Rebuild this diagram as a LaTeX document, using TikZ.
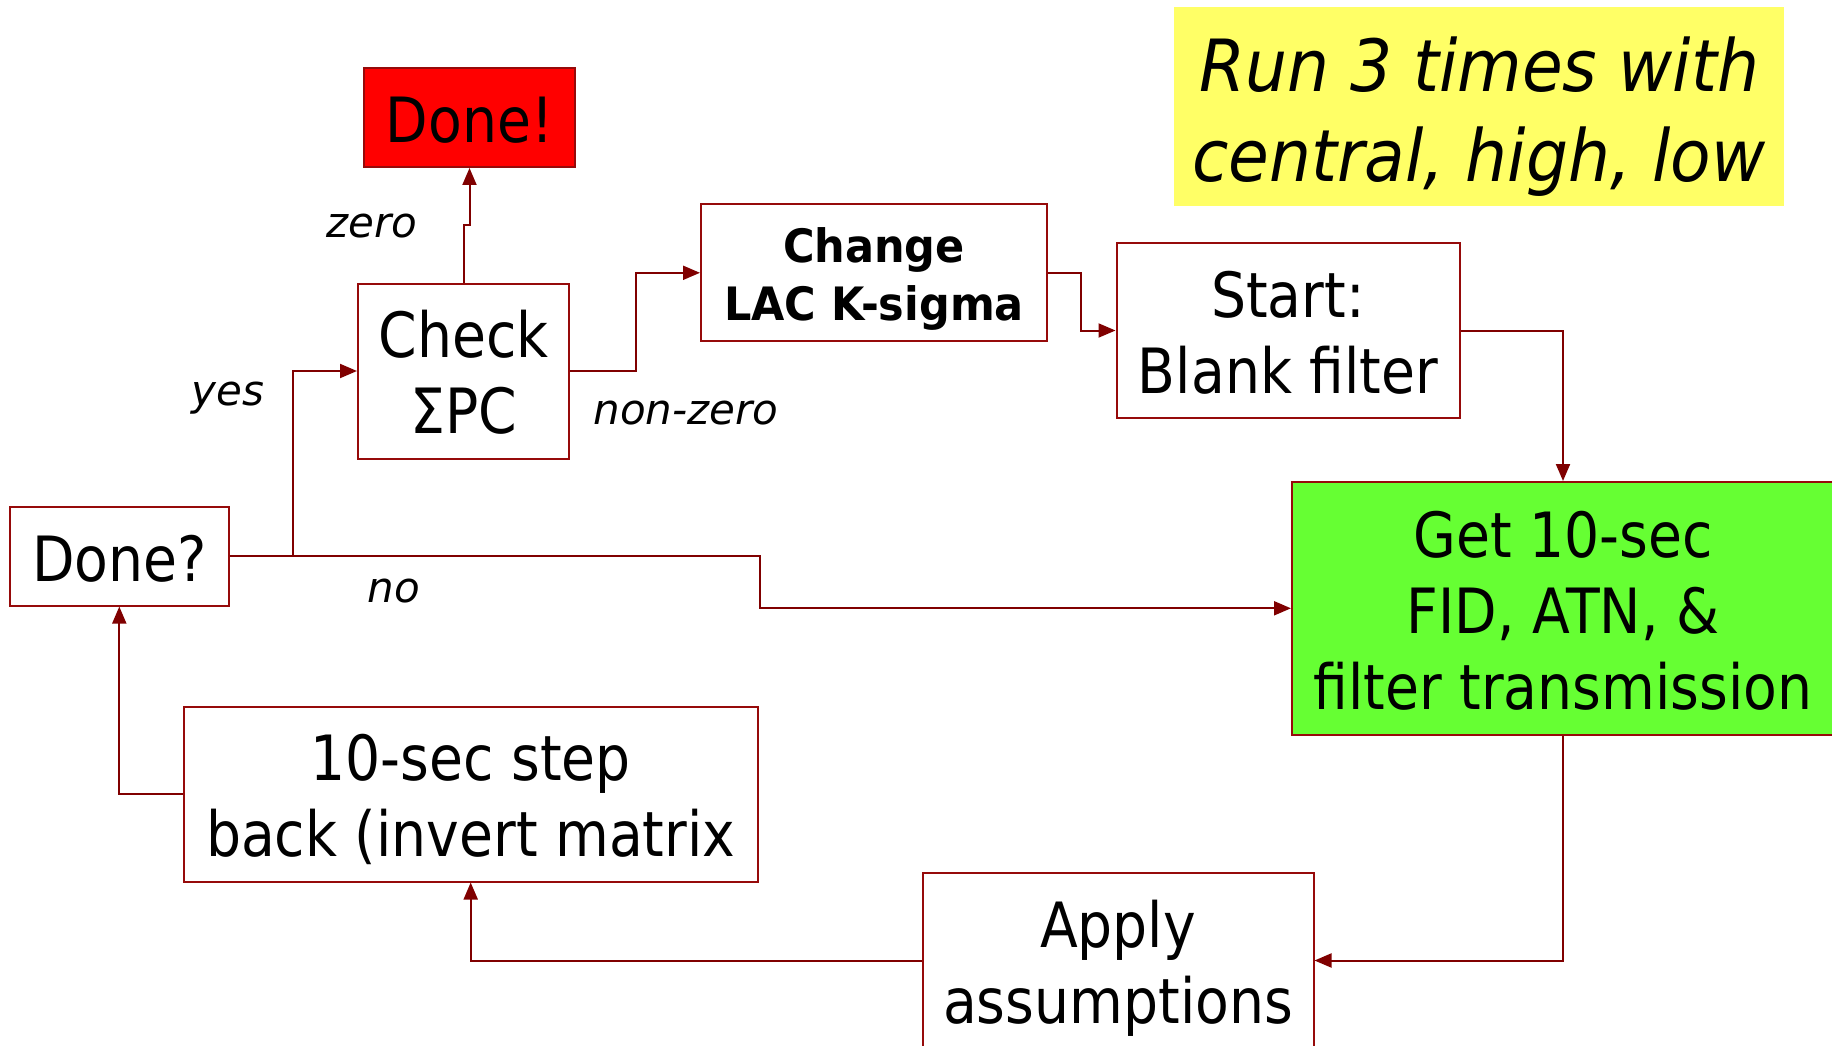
\documentclass[tikz,border=0pt]{standalone}
\usepackage{fontspec}
\usetikzlibrary{arrows.meta}
\newfontfamily\mainf[FakeStretch=0.885]{DejaVu Sans}
\newfontfamily\chgf[FakeStretch=0.935]{DejaVu Sans}
\newfontfamily\labf{DejaVu Sans}
\newfontfamily\yelf[FakeStretch=0.92]{DejaVu Sans}
\definecolor{lnred}{RGB}{128,0,0}
\definecolor{bdred}{RGB}{150,10,10}
\definecolor{boxgreen}{RGB}{102,255,51}
\definecolor{boxyellow}{RGB}{255,255,102}
\newcommand\ms{\rule[-13.3pt]{0pt}{76pt}}
\newcommand\cs{\rule[-9.8pt]{0pt}{57pt}}
\newcommand\ys{\rule[-14.8pt]{0pt}{90pt}}
\begin{document}
\begin{tikzpicture}[x=1pt,y=-1pt,
  box/.style={draw=bdred, line width=2pt, rectangle, inner sep=0pt, align=center,
    font=\mainf\fontsize{62.4}{76}\selectfont},
  conn/.style={draw=lnred, line width=2pt, -{Triangle[length=17pt,width=14pt]}},
  lab/.style={anchor=base, inner sep=0pt, font=\labf\itshape\fontsize{42}{50}\selectfont}]
\useasboundingbox (0,0) rectangle (1832,1046);
\clip (0,0) rectangle (1832,1046);

% nodes
\node[box, fill=red, minimum width=211pt, minimum height=99pt] (done) at (469.5,117.5) {\ms Done!};
\node[box, minimum width=211pt, minimum height=175pt] (check) at (463.5,371) {\ms Check\\\ms ΣPC};
\node[box, minimum width=346pt, minimum height=137pt, font=\chgf\bfseries\fontsize{46}{57}\selectfont] (change) at (874,272.8) {\cs Change\\\cs LAC K-sigma};
\node[box, minimum width=343pt, minimum height=175pt] (start) at (1288,330.5) {\ms Start:\\\ms Blank filter};
\node[fill=boxyellow, inner sep=0pt, align=center, minimum width=610pt, minimum height=199pt,
  font=\yelf\itshape\fontsize{72}{90}\selectfont] (note) at (1479,106.5) {\ys Run 3 times with\\\ys central, high, low};
\node[box, fill=boxgreen, minimum width=542pt, minimum height=252.6pt] (green) at (1563,608.3) {\ms Get 10-sec\\\ms FID, ATN, \&\\\ms filter transmission};
\node[box, minimum width=391pt, minimum height=175pt] (apply) at (1118,960.5) {\ms Apply\\\ms assumptions};
\node[box, minimum width=574pt, minimum height=175pt] (back) at (470.7,794) {\ms 10-sec step\\\ms back (invert matrix};
\node[box, minimum width=218.5pt, minimum height=98.6pt] (doneq) at (119.3,556.3) {\ms Done?};

% connectors
\draw[conn] (check.north) -- ++(0,-57.5) -| (done.south);
\draw[conn] (doneq.east) -- (293,556.3) |- (check.west);
\draw[conn] (doneq.east) -- (760,556.3) -- (760,608.3) -- (green.west);
\draw[conn] (check.east) -- (635.6,371) |- (change.west);
\draw[conn] (change.east) -- (1081,272.8) |- (start.west);
\draw[conn] (start.east) -| (green.north);
\draw[conn] (green.south) |- (apply.east);
\draw[conn] (apply.west) -| (back.south);
\draw[conn] (back.west) -| (doneq.south);

% labels
\node[lab] (lzero) at (372,237) {zero};
\node[lab] (lyes) at (228,405) {yes};
\node[lab] (lnon) at (686,424) {non-zero};
\node[lab] (lno) at (394,602) {no};
\end{tikzpicture}
\end{document}
